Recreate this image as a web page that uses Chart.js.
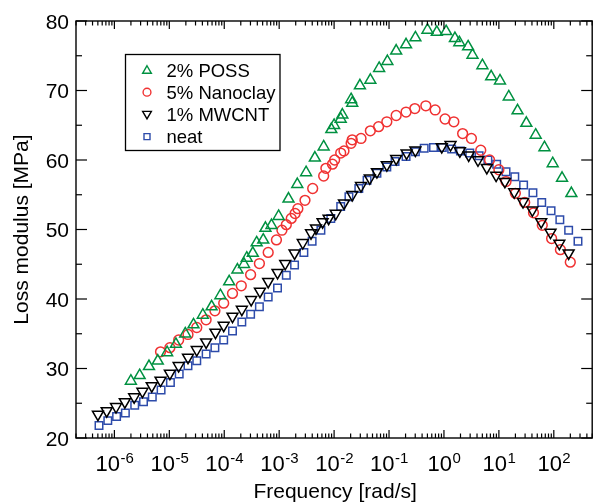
<!DOCTYPE html>
<html>
<head>
<meta charset="utf-8">
<script src="https://cdn.jsdelivr.net/npm/chart.js@4.4.1/dist/chart.umd.min.js"></script>
<style>
  html, body { margin: 0; padding: 0; background: #fff; overflow: hidden; }
  #wrap { width: 600px; height: 504px; overflow: hidden; }
  canvas { display: block; }
</style>
</head>
<body>
<div id="wrap"><canvas id="c" width="600" height="504"></canvas></div>
<script>
// ---- data (frequency as log10 exponent, loss modulus in MPa) ----
const seriesNames = ["2% POSS", "5% Nanoclay", "1% MWCNT", "neat"];

const possExp = [-5.70,-5.54,-5.37,-5.21,-5.04,-4.88,-4.71,-4.56,-4.39,-4.23,-4.07,-3.91,-3.76,-3.64,-3.59,-3.48,-3.41,-3.29,-3.25,-3.14,-3.01,-2.83,-2.67,-2.51,-2.35,-2.19,-2.05,-2.00,-1.88,-1.85,-1.69,-1.67,-1.53,-1.34,-1.18,-1.03,-0.87,-0.69,-0.52,-0.30,-0.13,0.04,0.20,0.28,0.44,0.52,0.70,0.86,1.02,1.18,1.34,1.50,1.67,1.83,1.98,2.15,2.32];
const possVal = [28.2,29.0,30.3,31.1,32.3,33.5,35.0,36.3,37.7,38.9,40.5,42.5,44.2,45.0,45.9,46.6,48.1,48.5,50.2,50.6,51.9,54.4,56.5,58.2,60.3,61.9,64.4,65.0,65.9,66.5,68.7,68.2,70.7,71.5,73.2,74.2,75.7,76.6,77.6,78.7,78.4,78.5,77.5,76.9,76.3,75.1,73.6,72.0,71.4,69.1,67.1,65.3,63.6,61.8,59.5,57.4,55.2];

const nanoExp = [-5.16,-4.99,-4.83,-4.66,-4.50,-4.33,-4.17,-4.01,-3.85,-3.69,-3.52,-3.36,-3.20,-3.05,-2.95,-2.87,-2.78,-2.71,-2.66,-2.53,-2.39,-2.19,-2.15,-2.03,-1.99,-1.88,-1.82,-1.69,-1.67,-1.51,-1.34,-1.19,-1.04,-0.87,-0.69,-0.53,-0.33,-0.16,0.02,0.18,0.34,0.50,0.67,0.83,1.00,1.13,1.30,1.47,1.63,1.79,1.96,2.12,2.30];
const nanoVal = [32.4,33.0,34.1,34.9,35.9,37.0,38.3,39.4,40.8,41.9,43.5,45.1,46.7,48.5,49.9,50.7,51.6,52.3,53.0,54.2,55.9,57.7,58.8,59.4,60.0,61.0,61.3,62.4,62.9,63.1,64.2,64.8,65.5,66.4,66.9,67.4,67.8,67.2,65.9,65.5,63.8,63.1,61.4,60.0,58.6,56.9,55.2,53.9,52.4,50.6,48.7,47.1,45.3];

const mwExp = [-6.30,-6.14,-5.97,-5.81,-5.64,-5.49,-5.32,-5.16,-4.99,-4.83,-4.66,-4.50,-4.33,-4.16,-4.01,-3.85,-3.68,-3.51,-3.35,-3.20,-3.03,-2.89,-2.72,-2.57,-2.42,-2.33,-2.21,-2.10,-1.97,-1.82,-1.67,-1.51,-1.35,-1.22,-1.04,-0.87,-0.68,-0.52,-0.04,0.12,0.29,0.45,0.62,0.78,0.95,1.11,1.28,1.44,1.61,1.77,1.94,2.10,2.27];
const mwVal = [23.4,23.9,24.5,25.2,25.9,26.7,27.5,28.3,29.3,30.4,31.6,32.7,33.8,35.2,36.2,37.5,38.5,39.9,41.1,42.5,43.8,45.1,46.6,48.1,49.5,50.2,51.1,51.6,52.3,53.8,55.0,56.3,57.4,58.3,59.3,60.2,61.0,61.4,61.9,62.2,61.3,60.7,60.0,58.9,57.8,56.9,55.4,54.0,52.8,51.1,49.6,48.0,46.6];

const neatExp = [-6.28,-6.12,-5.96,-5.80,-5.63,-5.47,-5.31,-5.15,-4.98,-4.82,-4.66,-4.50,-4.33,-4.17,-4.01,-3.85,-3.68,-3.52,-3.36,-3.20,-3.03,-2.87,-2.72,-2.55,-2.40,-2.24,-2.06,-1.88,-1.73,-1.55,-1.40,-1.22,-1.04,-0.89,-0.69,-0.52,-0.36,-0.19,-0.03,0.14,0.30,0.47,0.64,0.80,0.96,1.13,1.29,1.45,1.62,1.78,1.95,2.11,2.27,2.44];
const neatVal = [21.8,22.5,23.1,23.6,24.7,25.2,25.9,26.9,28.0,29.2,30.4,31.1,32.1,33.0,34.1,35.4,36.7,37.8,38.9,40.3,41.6,43.4,44.9,46.7,48.3,49.9,51.6,53.3,54.7,55.9,57.1,58.1,59.0,59.8,60.5,61.2,61.7,61.8,61.8,61.6,61.3,61.0,60.6,60.0,59.4,58.3,57.6,56.4,55.3,53.9,52.7,51.4,49.9,48.3];

const xTickExps = [-6,-5,-4,-3,-2,-1,0,1,2];
const yTickLabels = [20,30,40,50,60,70,80];
const xTitle = "Frequency [rad/s]";
const yTitle = "Loss modulus [MPa]";

const X_MIN = 2e-7, X_MAX = 5e2, Y_MIN = 20, Y_MAX = 80;
const FONT = '"Liberation Sans", Arial, Helvetica, sans-serif';

function pts(ex, vals) { return ex.map((e, i) => ({ x: Math.pow(10, e), y: vals[i] })); }

const styles = [
  { color: "rgb(0,145,65)",  pointStyle: "triangle", radius: 6.3, rotation: 0,   order: 1 },
  { color: "rgb(240,50,50)", pointStyle: "circle",   radius: 4.9, rotation: 0,   order: 3 },
  { color: "rgb(0,0,0)",     pointStyle: "triangle", radius: 6.3, rotation: 180, order: 2 },
  { color: "rgb(45,75,170)", pointStyle: "rect",     radius: 5.3, rotation: 0,   order: 4 }
];
const seriesData = [pts(possExp, possVal), pts(nanoExp, nanoVal), pts(mwExp, mwVal), pts(neatExp, neatVal)];

const datasets = seriesNames.map((name, i) => ({
  label: name,
  data: seriesData[i],
  showLine: false,
  pointStyle: styles[i].pointStyle,
  pointRotation: styles[i].rotation,
  pointRadius: styles[i].radius,
  pointHoverRadius: styles[i].radius,
  pointBorderWidth: 1.5,
  borderColor: styles[i].color,
  pointBorderColor: styles[i].color,
  pointBackgroundColor: "rgba(0,0,0,0)",
  backgroundColor: "rgba(0,0,0,0)",
  order: styles[i].order
}));

function line(ctx, x1, y1, x2, y2) { ctx.beginPath(); ctx.moveTo(x1, y1); ctx.lineTo(x2, y2); ctx.stroke(); }

const framePlugin = {
  id: "frame",
  afterDraw(chart) {
    const ctx = chart.ctx, a = chart.chartArea, xs = chart.scales.x, ys = chart.scales.y;
    ctx.save();
    ctx.strokeStyle = "#000";
    ctx.fillStyle = "#000";
    ctx.lineWidth = 1.4;
    ctx.strokeRect(a.left, a.top, a.right - a.left, a.bottom - a.top);
    ctx.lineWidth = 1.2;
    // y ticks (left and right, inward)
    for (let v = Y_MIN; v <= Y_MAX; v += 5) {
      const py = ys.getPixelForValue(v);
      const L = (v % 10 === 0) ? 11 : 6;
      line(ctx, a.left, py, a.left + L, py);
      line(ctx, a.right, py, a.right - L, py);
    }
    // x ticks (bottom and top, inward)
    for (let e = -7; e <= 2; e++) {
      for (let k = 1; k <= 9; k++) {
        const f = k * Math.pow(10, e);
        if (f < X_MIN * 0.999 || f > X_MAX * 1.001) continue;
        const px = xs.getPixelForValue(f);
        const L = (k === 1) ? 8 : 4.5;
        line(ctx, px, a.bottom, px, a.bottom - L);
        line(ctx, px, a.top, px, a.top + L);
      }
    }
    // y tick labels
    ctx.font = "21px " + FONT;
    ctx.textAlign = "right";
    ctx.textBaseline = "alphabetic";
    yTickLabels.forEach(v => {
      const py = ys.getPixelForValue(v);
      ctx.fillText(String(v), a.left - 7, py + 7.5);
    });
    // x tick labels 10^n
    xTickExps.forEach(n => {
      const px = xs.getPixelForValue(Math.pow(10, n));
      ctx.font = "22px " + FONT;
      const base = "10";
      const wb = ctx.measureText(base).width;
      ctx.font = "15px " + FONT;
      const ex = String(n);
      const we = ctx.measureText(ex).width;
      const x0 = px - (wb + we) / 2;
      ctx.textAlign = "left";
      ctx.font = "22px " + FONT;
      ctx.fillText(base, x0, a.bottom + 33);
      ctx.font = "15px " + FONT;
      ctx.fillText(ex, x0 + wb + 0.5, a.bottom + 25);
    });
    // axis titles
    ctx.font = "21px " + FONT;
    ctx.textAlign = "center";
    ctx.fillText(xTitle, (a.left + a.right) / 2 + 1, 498);
    ctx.save();
    ctx.translate(28, (a.top + a.bottom) / 2);
    ctx.rotate(-Math.PI / 2);
    ctx.fillText(yTitle, 0, 0);
    ctx.restore();

    // legend
    const lx = 125.5, ly = 54.5, lw = 154.5, lh = 96;
    ctx.lineWidth = 1.3;
    ctx.fillStyle = "#fff";
    ctx.fillRect(lx, ly, lw, lh);
    ctx.strokeStyle = "#000";
    ctx.strokeRect(lx, ly, lw, lh);
    const rowY = [70, 92.2, 114.4, 136.6];
    seriesNames.forEach((name, i) => {
      const s = styles[i];
      ctx.strokeStyle = s.color;
      ctx.fillStyle = "rgba(0,0,0,0)";
      ctx.lineWidth = 1.4;
      Chart.helpers.drawPoint(ctx, {
        pointStyle: s.pointStyle,
        rotation: s.rotation,
        radius: s.radius * 0.8,
        borderWidth: 1.4
      }, 147, rowY[i] + (s.pointStyle === "triangle" ? (s.rotation ? -0.5 : 0.8) : 0));
      ctx.fillStyle = "#000";
      ctx.font = "18.5px " + FONT;
      ctx.textAlign = "left";
      ctx.fillText(name, 166.5, rowY[i] + 6.5);
    });
    ctx.restore();
  }
};

new Chart(document.getElementById("c"), {
  type: "scatter",
  data: { datasets },
  options: {
    responsive: false,
    animation: false,
    devicePixelRatio: 1,
    layout: { padding: { left: 76, top: 21, right: 3, bottom: 66 } },
    plugins: { legend: { display: false }, tooltip: { enabled: false } },
    scales: {
      x: { type: "logarithmic", min: X_MIN, max: X_MAX, display: false },
      y: { type: "linear", min: Y_MIN, max: Y_MAX, display: false }
    }
  },
  plugins: [framePlugin]
});
</script>
</body>
</html>
